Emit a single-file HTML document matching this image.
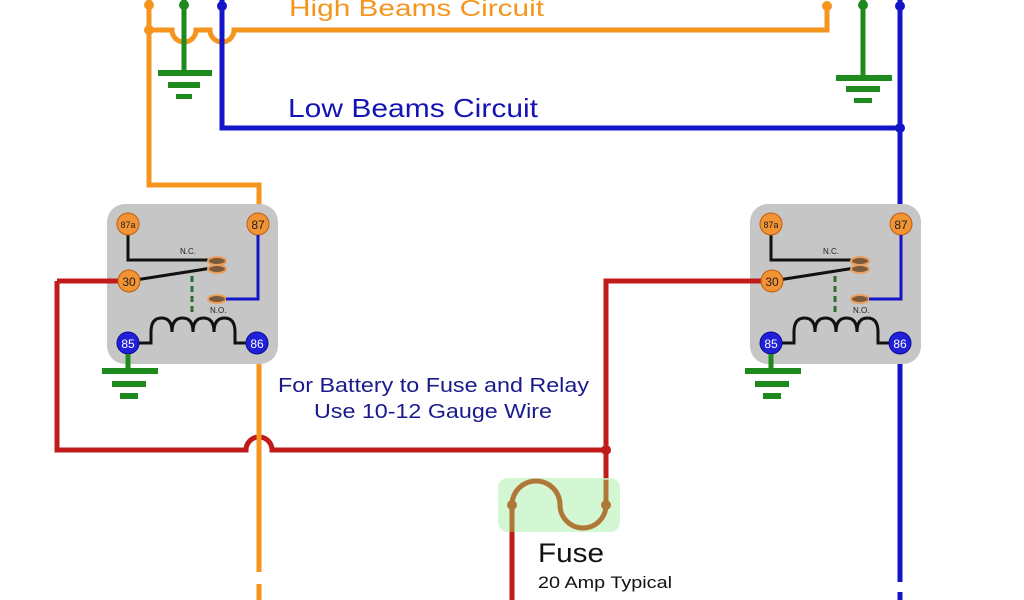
<!DOCTYPE html>
<html><head><meta charset="utf-8"><style>html,body{margin:0;padding:0;background:#fff}svg{display:block}</style></head><body>
<svg width="1024" height="600" viewBox="0 0 1024 600" xmlns="http://www.w3.org/2000/svg" font-family="Liberation Sans, sans-serif">
<defs>
<g id="relay">
<rect x="107" y="204" width="171" height="160" rx="18" fill="#c6c6c6"/>
<line x1="57" y1="281" x2="118" y2="281" stroke="#c01a1a" stroke-width="5"/>
<polyline points="128,224 128,260 212,260" fill="none" stroke="#111" stroke-width="3"/>
<line x1="129" y1="281" x2="212" y2="268" stroke="#111" stroke-width="3"/>
<line x1="192" y1="276" x2="192" y2="312" stroke="#2f6b2f" stroke-width="3" stroke-dasharray="6,4"/>
<polyline points="128,343 151,343 151,330" fill="none" stroke="#111" stroke-width="3"/>
<path d="M151,332 q0,-14 10.5,-14 q10.5,0 10.5,14 q0,-14 10.5,-14 q10.5,0 10.5,14 q0,-14 10.5,-14 q10.5,0 10.5,14 q0,-14 10.5,-14 q10.5,0 10.5,14" fill="none" stroke="#111" stroke-width="3"/>
<polyline points="235,330 235,343 257,343" fill="none" stroke="#111" stroke-width="3"/>
<ellipse cx="217" cy="261" rx="9" ry="4" fill="#7a5a3a" stroke="#e8a060" stroke-width="2"/>
<ellipse cx="217" cy="269" rx="9" ry="4" fill="#7a5a3a" stroke="#e8a060" stroke-width="2"/>
<ellipse cx="217" cy="299" rx="9" ry="4" fill="#7a5a3a" stroke="#e8a060" stroke-width="2"/>
<text x="180" y="254" font-size="8" fill="#222">N.C.</text>
<text x="210" y="313" font-size="8" fill="#222">N.O.</text>
<g stroke="#c05a10" stroke-width="1">
<circle cx="128" cy="224" r="11" fill="#f39434"/><circle cx="258" cy="224" r="11" fill="#f39434"/><circle cx="129" cy="281" r="11" fill="#f39434"/>
</g>
<circle cx="128" cy="343" r="11" fill="#2020d8" stroke="#0a0a90"/><circle cx="257" cy="343" r="11" fill="#2020d8" stroke="#0a0a90"/>
<g font-size="12" fill="#222" text-anchor="middle"><text x="128" y="228" font-size="9">87a</text><text x="258" y="229">87</text><text x="129" y="286">30</text></g>
<g font-size="12" fill="#fff" text-anchor="middle"><text x="128" y="348">85</text><text x="257" y="348">86</text></g>
<polyline points="128,354 128,371" stroke="#1e8a1e" stroke-width="5" fill="none"/>
<rect x="102" y="368" width="56" height="6" fill="#1e8a1e"/><rect x="112" y="381" width="34" height="6" fill="#1e8a1e"/><rect x="120" y="393" width="18" height="6" fill="#1e8a1e"/>
</g>
</defs>
<g fill="none" stroke-width="5">
<path d="M57,281 V450 H246 a13,13 0 0 1 26,0 H606 V281 H700" stroke="#c01a1a"/>
<line x1="606" y1="450" x2="606" y2="505" stroke="#c01a1a"/>
<line x1="512" y1="532" x2="512" y2="600" stroke="#c01a1a"/>
<path d="M149,0 V185 H259 V572 M259,584 V600" stroke="#f5951e"/>
<path d="M149,30 H172 a12,12 0 0 0 24,0 H210 a12,12 0 0 0 24,0 H827 V4" stroke="#f5951e"/>
<line x1="184" y1="0" x2="184" y2="74" stroke="#1e8a1e"/>
<line x1="863" y1="0" x2="863" y2="78" stroke="#1e8a1e"/>
<path d="M222,0 V128 H900" stroke="#1414c8"/>
<path d="M900,0 V582 M900,592 V600" stroke="#1414c8"/>
</g>
<use href="#relay"/>
<use href="#relay" transform="translate(643,0)"/>
<g fill="none">
<polyline points="226,299 258,299 258,235" stroke="#1414c8" stroke-width="3"/>
<polyline points="869,299 901,299 901,235" stroke="#1414c8" stroke-width="3"/>
</g>
<g fill="#1e8a1e">
<rect x="158" y="70" width="54" height="6"/><rect x="168" y="82" width="32" height="6"/><rect x="176" y="94" width="16" height="5"/>
<rect x="836" y="75" width="56" height="6"/><rect x="846" y="86" width="34" height="6"/><rect x="854" y="98" width="18" height="5"/>
</g>
<g>
<circle cx="149" cy="5" r="5" fill="#f5951e"/><circle cx="149" cy="30" r="5" fill="#f5951e"/><circle cx="827" cy="6" r="5" fill="#f5951e"/>
<circle cx="184" cy="5" r="5" fill="#1e8a1e"/><circle cx="863" cy="5" r="5" fill="#1e8a1e"/>
<circle cx="222" cy="6" r="5" fill="#1414c8"/><circle cx="900" cy="6" r="5" fill="#1414c8"/><circle cx="900" cy="128" r="5" fill="#1414c8"/>
<circle cx="606" cy="450" r="5" fill="#c01a1a"/>
</g>
<rect x="498" y="478" width="122" height="54" rx="10" fill="#c8f5c8" opacity="0.8"/>
<path d="M512,532 V505 a24,24 0 0 1 48,0 a23,23 0 0 0 46,0 V480" fill="none" stroke="#b07838" stroke-width="5"/>
<circle cx="512" cy="505" r="5" fill="#b07838"/><circle cx="606" cy="505" r="5" fill="#b07838"/>
<text x="289" y="16" font-size="23" fill="#f5951e" textLength="255" lengthAdjust="spacingAndGlyphs">High Beams Circuit</text>
<text x="288" y="117" font-size="26" fill="#1414b4" textLength="250" lengthAdjust="spacingAndGlyphs">Low Beams Circuit</text>
<text x="278" y="392" font-size="20" fill="#1a1a8c" textLength="311" lengthAdjust="spacingAndGlyphs">For Battery to Fuse and Relay</text>
<text x="314" y="418" font-size="20" fill="#1a1a8c" textLength="238" lengthAdjust="spacingAndGlyphs">Use 10-12 Gauge Wire</text>
<text x="538" y="562" font-size="27" fill="#111" textLength="66" lengthAdjust="spacingAndGlyphs">Fuse</text>
<text x="538" y="588" font-size="17" fill="#111" textLength="134" lengthAdjust="spacingAndGlyphs">20 Amp Typical</text>
</svg>
</body></html>
